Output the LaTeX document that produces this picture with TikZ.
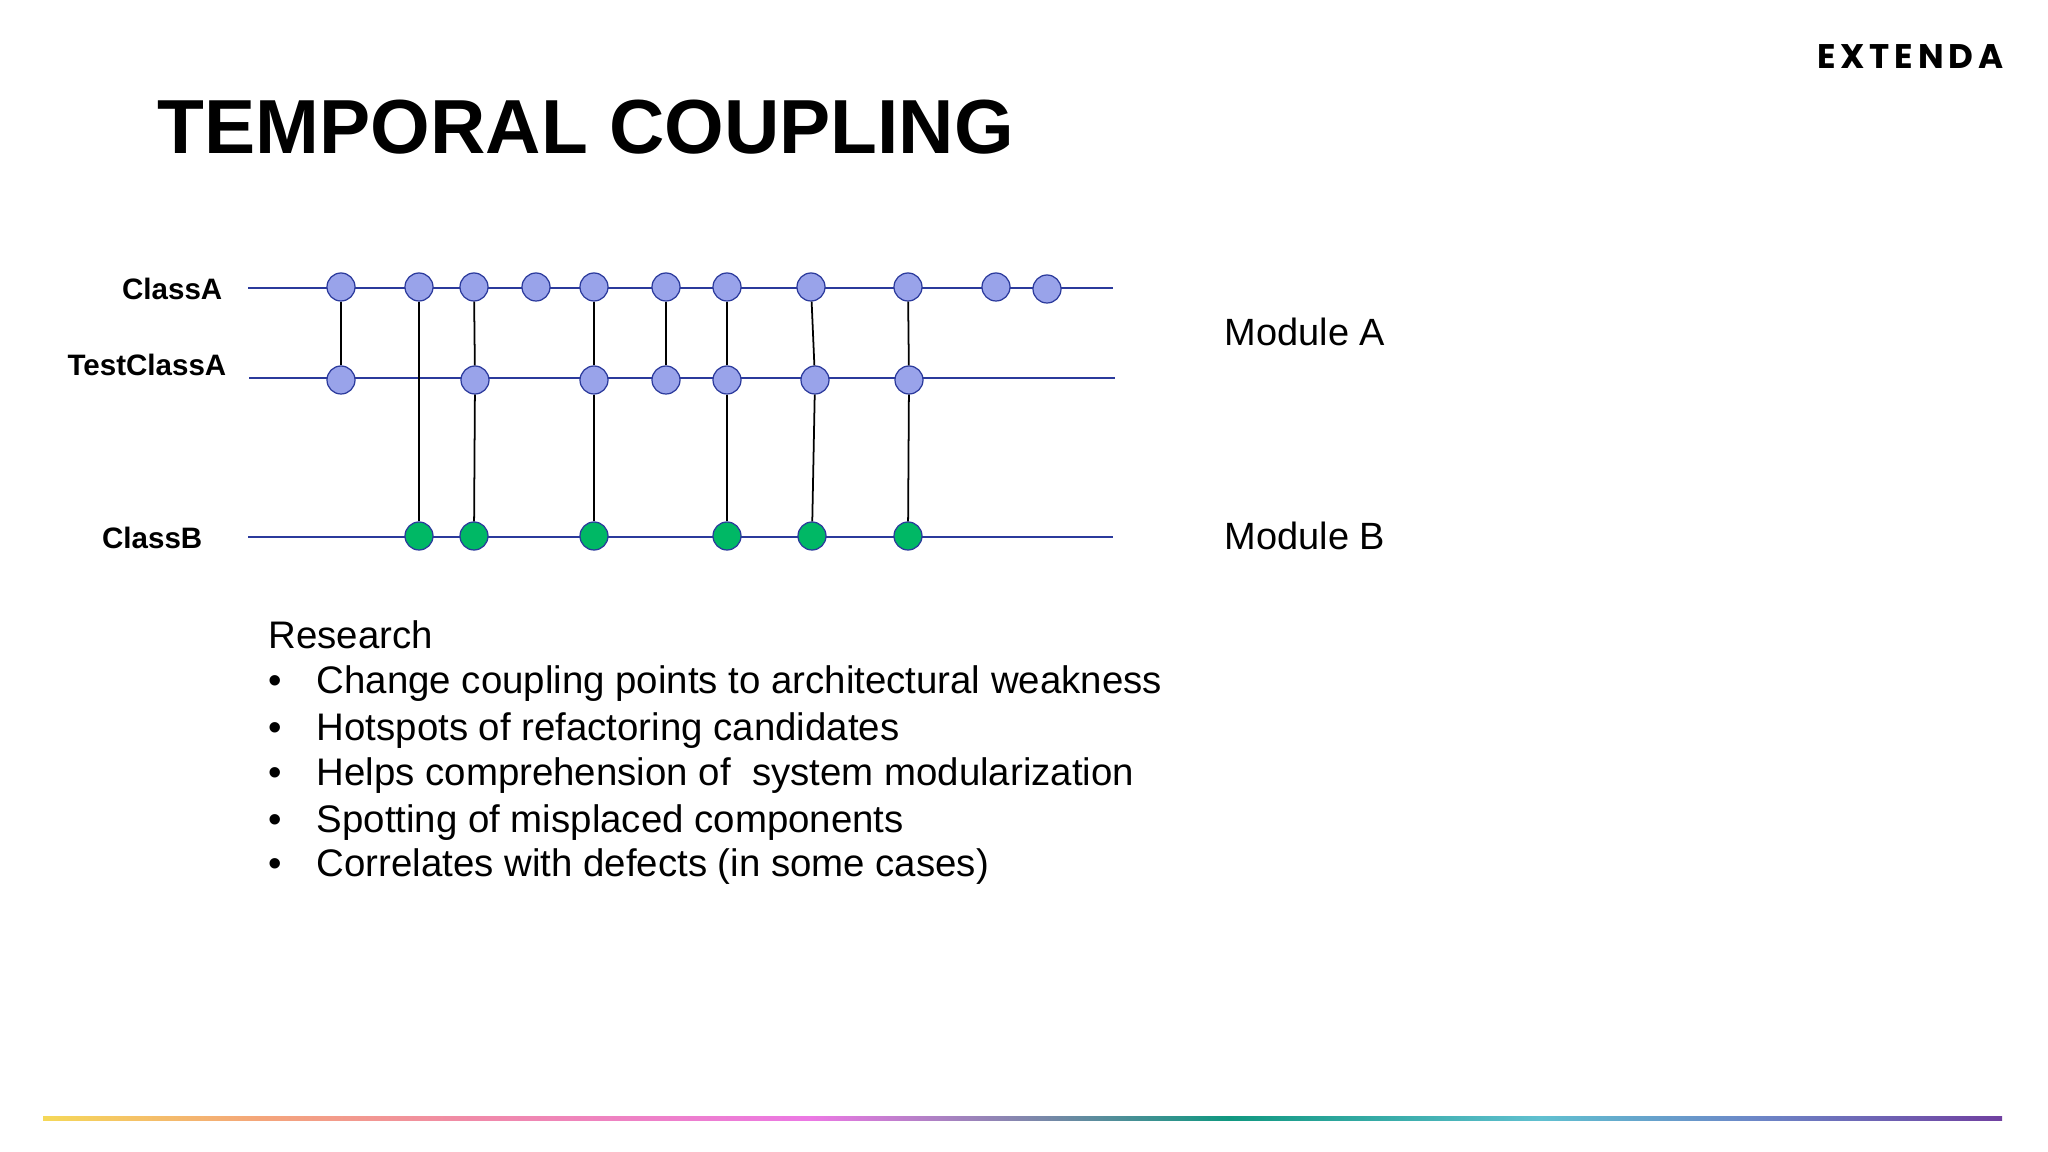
\documentclass[tikz,border=0pt]{standalone}
\usepackage{fontspec}
\setmainfont{Liberation Sans}
\newfontfamily\logofont[LetterSpace=14]{Poppins}

\definecolor{rowblue}{HTML}{2B3A9C}
\definecolor{dotblue}{HTML}{99A3EA}
\definecolor{dotgreen}{HTML}{00B865}

\tikzset{
    row/.style={draw=rowblue, line width=0.6pt},
    dot/.style={circle, draw=rowblue, line width=0.35pt, minimum size=0.28cm, inner sep=0pt},
    dotA/.style={dot, fill=dotblue},
    dotB/.style={dot, fill=dotgreen},
    link/.style={draw=black, line width=0.5pt},
    classlabel/.style={font=\fontsize{8.4}{10}\selectfont\bfseries, inner sep=0pt, anchor=base east},
    modulelabel/.style={font=\fontsize{10.8}{13}\selectfont, inner sep=0pt, anchor=base west},
    listline/.style={font=\fontsize{10.92}{13}\selectfont, inner sep=0pt, anchor=base west}
}

\begin{document}
\begin{tikzpicture}[x=0.01cm, y=-0.01cm]
\useasboundingbox (0,0) rectangle (2048,1152);

% Title and logo
\node[font=\fontsize{21.8}{24}\selectfont\bfseries, inner sep=0pt, anchor=base west] (title) at (157,154) {TEMPORAL COUPLING};
\node[font=\logofont\fontsize{9.7}{11}\selectfont\bfseries, inner sep=0pt, anchor=base east] (logo) at (2004,69) {EXTENDA};

% Rows, end points
\coordinate (rowAl) at (248,288);
\coordinate (rowAr) at (1113,288);
\coordinate (rowTl) at (249,378);
\coordinate (rowTr) at (1115,378);
\coordinate (rowBl) at (248,537);
\coordinate (rowBr) at (1113,537);
\draw[row] (rowAl) -- (rowAr);
\draw[row] (rowTl) -- (rowTr);
\draw[row] (rowBl) -- (rowBr);

% Commits of ClassA
\foreach \i/\x/\y in {1/341/287,2/419/287,3/474/287,4/536/287,5/594/287,6/666/287,7/727/287,8/811/287,9/908/287,10/996/287,11/1047/289} {
    \node[dotA] (a\i) at (\x,\y) {};
}
% Commits of TestClassA
\foreach \i/\x in {1/341,3/475,5/594,6/666,7/727,8/815,9/909} {
    \node[dotA] (t\i) at (\x,380) {};
}
% Commits of ClassB
\foreach \i/\x in {2/419,3/474,5/594,7/727,8/812,9/908} {
    \node[dotB] (b\i) at (\x,536) {};
}

% Links between commits
\foreach \i in {1,3,5,6,7,8,9} {
    \draw[link] (a\i) -- (t\i);
}
\foreach \i in {3,5,7,8,9} {
    \draw[link] (t\i) -- (b\i);
}
\draw[link] (a2) -- (b2);

% Row labels
\node[classlabel] (classA) at (223,300) {ClassA};
\node[classlabel] (testA) at (227,376) {TestClassA};
\node[classlabel] (classB) at (203,548) {ClassB};
\node[modulelabel] (modA) at (1224,346) {Module A};
\node[modulelabel] (modB) at (1224,550) {Module B};

% Research list
\node[listline] (research) at (268,649) {Research};
\foreach \i/\y/\txt in {1/693/Change coupling points to architectural weakness,
                        2/740/Hotspots of refactoring candidates,
                        3/785/Helps comprehension of\ \ system modularization,
                        4/832/Spotting of misplaced components,
                        5/876/Correlates with defects (in some cases)} {
    \node[listline] (bullet\i) at (268,\y) {\textbullet};
    \node[listline] (item\i) at (316,\y) {\txt};
}

% Colour bar at the foot
\foreach \a/\b/\ca/\cb in {43/261/F5D858/F4A57A,261/470/F4A57A/F08AA8,470/810/F08AA8/EC78E4,810/1045/EC78E4/7888A8,
                           1045/1228/7888A8/109880,1228/1541/109880/60C0D0,1541/1750/60C0D0/6C88C8,1750/2002/6C88C8/7040A0} {
    \definecolor{barl}{HTML}{\ca}
    \definecolor{barr}{HTML}{\cb}
    \shade[left color=barl, right color=barr] (\a,1116) rectangle (\b,1120);
}
\end{tikzpicture}
\end{document}
